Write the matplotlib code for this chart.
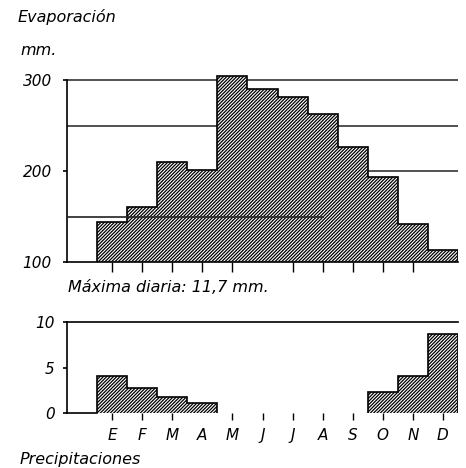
import matplotlib
matplotlib.use("Agg")
import matplotlib.pyplot as plt

months = ["E", "F", "M", "A", "M", "J", "J", "A", "S", "O", "N", "D"]
evaporacion = [144, 160, 210, 201, 305, 290, 281, 263, 226, 194, 142, 113]
precipitaciones = [4.1, 2.8, 1.8, 1.1, 0, 0, 0, 0, 0, 2.3, 4.1, 8.7]
evap_ticks = [100, 200, 300]
prec_ticks = [0, 5, 10]

plt.rcParams['hatch.linewidth'] = 0.9
plt.rcParams['hatch.color'] = '#222222'
HATCH = '/' * 10
FONT = dict(family=['DejaVu Sans'], style='italic')
FS = 11.5

W, H = 466, 468
fig = plt.figure(figsize=(W / 100, H / 100), dpi=100)

def px_axes(x0, y_top, x1, y_bot):
    return fig.add_axes([x0 / W, 1 - y_bot / H, (x1 - x0) / W, (y_bot - y_top) / H])

n = len(months)
x = list(range(n))
edges = [i - 0.5 for i in range(n + 1)]

# ---------------- Evaporation ----------------
ax1 = px_axes(67, 71, 458, 262)
ax1.set_xlim(-1.5, 11.5)
ax1.set_ylim(100, 310)
for g in [250, 300]:
    ax1.plot([-1.5, 11.5], [g, g], color='#333333', lw=1.2, zorder=1)
ax1.plot([3.5, 11.5], [200, 200], color='#333333', lw=1.2, zorder=1)
ax1.stairs(evaporacion, edges, baseline=100, fill=True, facecolor='white',
           edgecolor='black', linewidth=1.2, hatch=HATCH, zorder=2)
ax1.plot([-1.5, 7.0], [150, 150], color='#222222', lw=1.2, zorder=3)
for s in ['top', 'right']:
    ax1.spines[s].set_visible(False)
ax1.spines['left'].set_bounds(100, 300)
for s in ['left', 'bottom']:
    ax1.spines[s].set_linewidth(1.2)
ax1.set_yticks(evap_ticks)
ax1.set_yticklabels([str(t) for t in evap_ticks], fontsize=11, **FONT)
ax1.tick_params(axis='y', length=3, width=1.2, pad=8)
top_tick_idx = [0, 1, 2, 3, 4, 6, 7, 8, 9, 10]
ax1.set_xticks(top_tick_idx)
ax1.set_xticklabels([])
ax1.tick_params(axis='x', length=7, width=1.0, direction='out')

# ---------------- Precipitation ----------------
ax2 = px_axes(67, 322, 458, 413)
ax2.set_xlim(-1.5, 11.5)
ax2.set_ylim(0, 10)
# draw each run of non-zero months as one stepped block
i = 0
while i < n:
    if precipitaciones[i] > 0:
        j = i
        while j < n and precipitaciones[j] > 0:
            j += 1
        ax2.stairs(precipitaciones[i:j], edges[i:j + 1], baseline=0, fill=True,
                   facecolor='white', edgecolor='black', linewidth=1.2,
                   hatch=HATCH, zorder=2)
        i = j
    else:
        i += 1
ax2.plot([-1.5, -0.5], [0, 0], color='black', lw=1.2, clip_on=False)
ax2.spines['right'].set_visible(False)
ax2.spines['bottom'].set_visible(False)
ax2.spines['top'].set_linewidth(1.2)
ax2.spines['left'].set_linewidth(1.2)
ax2.set_yticks(prec_ticks)
ax2.set_yticklabels([str(t) for t in prec_ticks], fontsize=11, **FONT)
ax2.tick_params(axis='y', length=3, width=1.2, pad=6)
ax2.set_xticks(x)
ax2.set_xticklabels(months, fontsize=11, **FONT)
ax2.tick_params(axis='x', length=5, width=1.0, direction='out', pad=6)
for k, t in enumerate(ax2.xaxis.get_major_ticks()):
    if k == 3:
        t.tick1line.set_visible(False)

# ---------------- Texts ----------------
fig.text(18 / W, 1 - 22 / H, "Evaporación", fontsize=FS, va='baseline', **FONT)
fig.text(20 / W, 1 - 55 / H, "mm.", fontsize=FS, va='baseline', **FONT)
fig.text(68 / W, 1 - 292 / H, "Máxima diaria: 11,7 mm.", fontsize=FS, va='baseline', **FONT)
fig.text(20 / W, 1 - 464 / H, "Precipitaciones", fontsize=FS, va='baseline', **FONT)

fig.savefig("out.png", dpi=100, facecolor='white')
